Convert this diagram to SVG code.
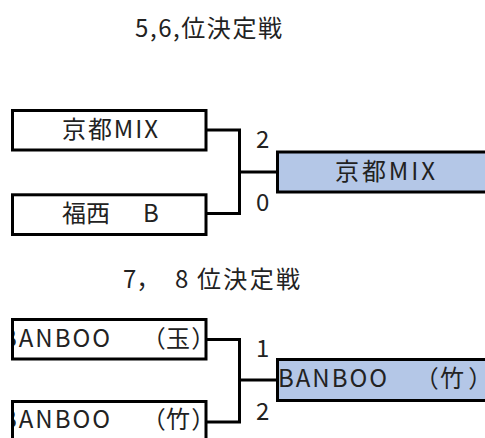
<svg xmlns="http://www.w3.org/2000/svg" width="485" height="438" viewBox="0 0 485 438">
  <style>
    .t { font-family: "Noto Sans CJK JP", "Noto Sans", sans-serif; font-size: 24px; fill: #222; }
    .p { font-feature-settings: "palt" 1; }
    .box { fill: #fff; stroke: #000; stroke-width: 3; }
    .win { fill: #b4c7e7; stroke: #000; stroke-width: 3; }
    .con { fill: none; stroke: #000; stroke-width: 3; }
  </style>
  <defs>
    <clipPath id="c3"><rect x="14" y="320" width="190" height="38"/></clipPath>
    <clipPath id="c4"><rect x="14" y="402" width="190" height="40"/></clipPath>
  </defs>
  <rect width="485" height="438" fill="#fff"/>

  <text class="t" x="135" y="37" textLength="147">5,6,位決定戦</text>
  <text class="t" y="288"><tspan x="123">7，</tspan><tspan x="175">8</tspan><tspan x="197" textLength="103">位決定戦</tspan></text>

  <g id="connectors">
    <polyline class="con" points="206,130 239.5,130 239.5,213.5 206,213.5"/>
    <line class="con" x1="239.5" y1="172" x2="277" y2="172"/>
    <polyline class="con" points="206,339.5 239.5,339.5 239.5,422 206,422"/>
    <line class="con" x1="239.5" y1="380" x2="277" y2="380"/>
  </g>

  <g id="scores">
    <text class="t" x="256" y="148">2</text>
    <text class="t" x="256" y="211">0</text>
    <text class="t" x="256" y="357">1</text>
    <text class="t" x="256" y="420">2</text>
  </g>

  <g id="n-kyoto">
    <rect class="box" x="12.5" y="110.5" width="193.5" height="39.5"/>
    <text class="t" x="62" y="138" textLength="96">京都MIX</text>
  </g>
  <g id="n-fukunishi">
    <rect class="box" x="12.5" y="194.8" width="193.5" height="39.7"/>
    <text class="t" y="222"><tspan x="62" textLength="48">福西</tspan><tspan x="143">B</tspan></text>
  </g>
  <g id="n-winner1">
    <rect class="win" x="277.5" y="152" width="215" height="40"/>
    <text class="t" x="335" y="180" textLength="100">京都MIX</text>
  </g>

  <g id="n-banboo-tama">
    <rect class="box" x="12.5" y="319.5" width="193.5" height="39.5"/>
    <text class="t" y="347" clip-path="url(#c3)"><tspan x="1" textLength="109">BANBOO</tspan><tspan class="p" x="153 166 192">（玉）</tspan></text>
  </g>
  <g id="n-banboo-take">
    <rect class="box" x="12.5" y="401.5" width="193.5" height="45"/>
    <text class="t" y="428" clip-path="url(#c4)"><tspan x="1" textLength="109">BANBOO</tspan><tspan class="p" x="153 166 192">（竹）</tspan></text>
  </g>
  <g id="n-winner2">
    <rect class="win" x="277.5" y="359.5" width="215" height="41"/>
    <text class="t" y="387"><tspan x="278" textLength="109">BANBOO</tspan><tspan class="p" x="426 440 469">（竹）</tspan></text>
  </g>
</svg>
